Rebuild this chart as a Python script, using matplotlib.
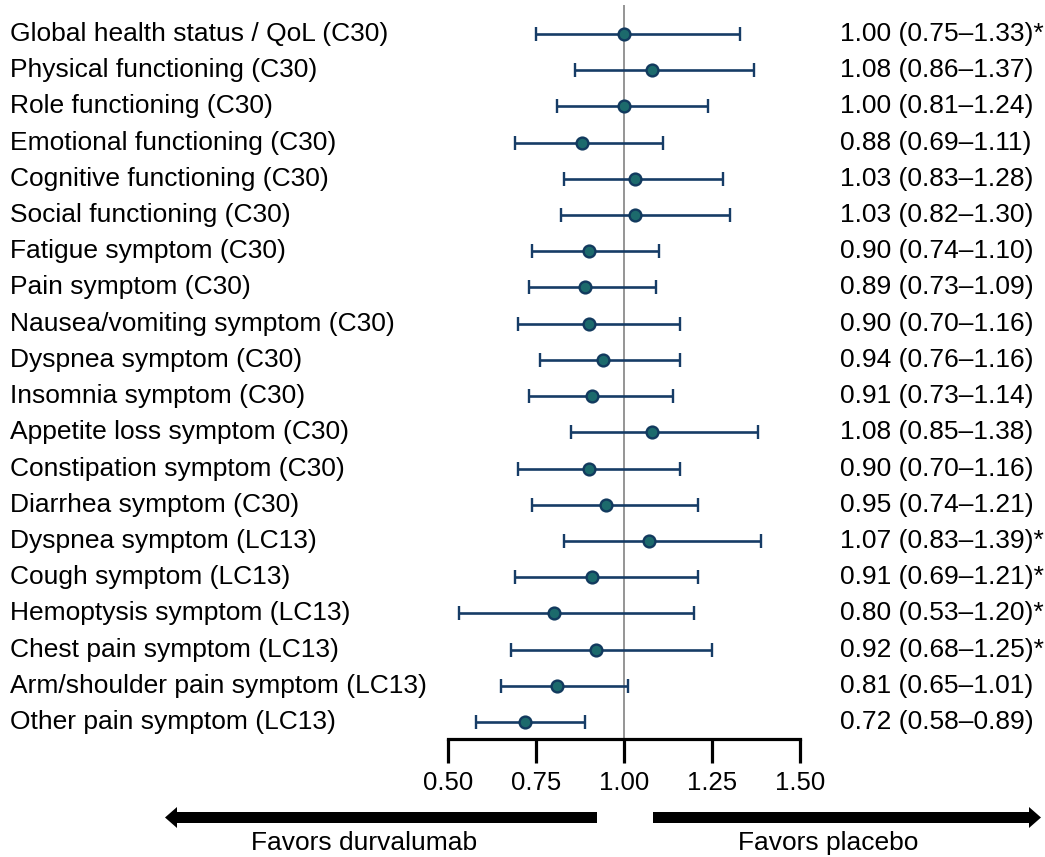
import matplotlib
matplotlib.use("Agg")
import matplotlib.pyplot as plt
import matplotlib.transforms as mtransforms
from matplotlib.patches import FancyArrow

plt.rcParams["font.family"] = ["Liberation Sans", "DejaVu Sans"]

labels = [
    "Global health status / QoL (C30)",
    "Physical functioning (C30)",
    "Role functioning (C30)",
    "Emotional functioning (C30)",
    "Cognitive functioning (C30)",
    "Social functioning (C30)",
    "Fatigue symptom (C30)",
    "Pain symptom (C30)",
    "Nausea/vomiting symptom (C30)",
    "Dyspnea symptom (C30)",
    "Insomnia symptom (C30)",
    "Appetite loss symptom (C30)",
    "Constipation symptom (C30)",
    "Diarrhea symptom (C30)",
    "Dyspnea symptom (LC13)",
    "Cough symptom (LC13)",
    "Hemoptysis symptom (LC13)",
    "Chest pain symptom (LC13)",
    "Arm/shoulder pain symptom (LC13)",
    "Other pain symptom (LC13)",
]
hr = [1.00, 1.08, 1.00, 0.88, 1.03, 1.03, 0.90, 0.89, 0.90, 0.94,
      0.91, 1.08, 0.90, 0.95, 1.07, 0.91, 0.80, 0.92, 0.81, 0.72]
lower = [0.75, 0.86, 0.81, 0.69, 0.83, 0.82, 0.74, 0.73, 0.70, 0.76,
         0.73, 0.85, 0.70, 0.74, 0.83, 0.69, 0.53, 0.68, 0.65, 0.58]
upper = [1.33, 1.37, 1.24, 1.11, 1.28, 1.30, 1.10, 1.09, 1.16, 1.16,
         1.14, 1.38, 1.16, 1.21, 1.39, 1.21, 1.20, 1.25, 1.01, 0.89]
starred = [True, False, False, False, False, False, False, False, False, False,
           False, False, False, False, True, True, True, True, False, False]
xticks = [0.50, 0.75, 1.00, 1.25, 1.50]

W, H = 1045, 857
FS = 19
fig = plt.figure(figsize=(W / 100, H / 100), dpi=100)

# forest axes: x 0.5..1.5 spans pixels 448..800, bottom spine at y=739
top_px, bot_px = 5, 739
ax = fig.add_axes([448 / W, (H - bot_px) / H, 352 / W, (bot_px - top_px) / H])
rows = list(range(len(labels)))
ax.set_xlim(0.5, 1.5)
ax.set_ylim(19.47, -0.8)

ax.axvline(1.0, color="#8c8c8c", lw=1.3, zorder=1)

err = [[h - l for h, l in zip(hr, lower)], [u - h for h, u in zip(hr, upper)]]
ax.errorbar(hr, rows, xerr=err, fmt="o", color="#163c66", ecolor="#163c66",
            elinewidth=1.9, capsize=5, capthick=1.9, markersize=8.5,
            markerfacecolor="#1c6a6c", markeredgecolor="#123a5e",
            markeredgewidth=1.7, zorder=3)

for s in ["top", "right", "left"]:
    ax.spines[s].set_visible(False)
ax.spines["bottom"].set_linewidth(2.3)
ax.set_yticks([])
ax.set_xticks(xticks)
ax.set_xticklabels([f"{t:.2f}" for t in xticks], fontsize=18.5)
ax.tick_params(axis="x", direction="out", length=17, width=2.3, pad=6)

trans = mtransforms.blended_transform_factory(fig.transFigure, ax.transData)
for i, (lab, h, l, u, st) in enumerate(zip(labels, hr, lower, upper, starred)):
    ax.text(10 / W, i, lab, transform=trans, fontsize=FS, ha="left",
            va="center", clip_on=False)
    txt = f"{h:.2f} ({l:.2f}\u2013{u:.2f})" + ("*" if st else "")
    ax.text(840 / W, i, txt, transform=trans, fontsize=FS, ha="left",
            va="center", clip_on=False)

# arrows and captions in pixel coordinates
ov = fig.add_axes([0, 0, 1, 1], facecolor="none")
ov.set_xlim(0, W)
ov.set_ylim(H, 0)
ov.axis("off")
ov.add_patch(FancyArrow(597, 817.5, -432, 0, width=11, head_width=21,
                        head_length=12, length_includes_head=True,
                        color="black", lw=0))
ov.add_patch(FancyArrow(653, 817.5, 388, 0, width=11, head_width=21,
                        head_length=12, length_includes_head=True,
                        color="black", lw=0))
ov.text(364, 843, "Favors durvalumab", fontsize=FS, ha="center", va="center")
ov.text(828, 843, "Favors placebo", fontsize=FS, ha="center", va="center")

fig.savefig("out.png", dpi=100)
